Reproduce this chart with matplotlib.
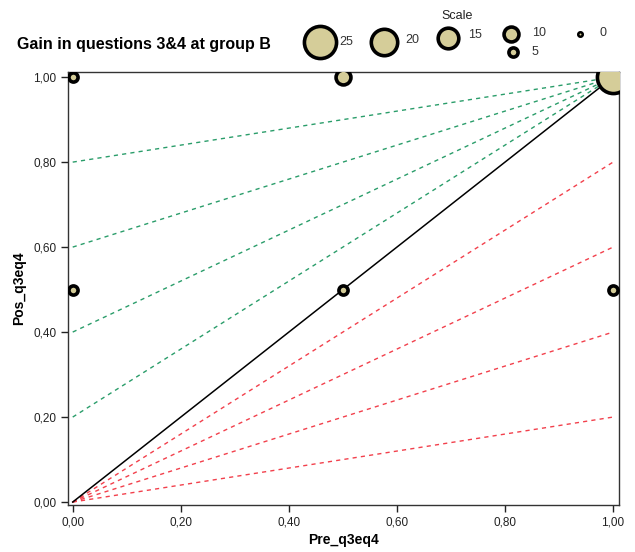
import matplotlib
matplotlib.use('Agg')
import matplotlib.pyplot as plt
from matplotlib.ticker import FuncFormatter

plt.rcParams['font.family'] = ['Liberation Sans', 'DejaVu Sans']

# observed points: pre score, post score, number of students
pre = [0.0, 0.5, 1.0, 0.0, 0.5, 1.0]
pos = [1.0, 1.0, 1.0, 0.5, 0.5, 0.5]
count = [5, 10, 25, 5, 5, 5]

# reference lines
gain_starts = [0.2, 0.4, 0.6, 0.8]   # green: from (0, y) to (1, 1)
loss_ends = [0.2, 0.4, 0.6, 0.8]     # red: from (0, 0) to (1, y)

scale_values = [25, 20, 15, 10, 5, 0]

fill = '#d5cd99'
EDGE_PX = 3.6


def marker_style(n):
    # outer diameter in pixels grows with the count
    d = 7 + 1.15 * n
    mew = 2.6 if n > 0 else 1.8
    ms = (d - mew / 0.72) * 0.72
    return dict(marker='o', ms=ms, mew=mew, mfc=fill, mec='black')


fig = plt.figure(figsize=(6.35, 5.52), dpi=100)
ax = fig.add_axes([0.1071, 0.0851, 0.8677, 0.7844])

for y0 in gain_starts:
    ax.plot([0, 1], [y0, 1], color='#2a9d6a', ls=(0, (3, 3)), lw=1.0, zorder=1)
for y1 in loss_ends:
    ax.plot([0, 1], [0, y1], color='#f2404c', ls=(0, (3, 3)), lw=1.0, zorder=1)
ax.plot([0, 1], [0, 1], color='black', lw=1.1, zorder=2)

for x, y, n in zip(pre, pos, count):
    ax.plot(x, y, ls='none', zorder=3, **marker_style(n))

ax.set_xlim(-0.0087, 1.011)
ax.set_ylim(-0.007, 1.012)
ticks = [0, 0.2, 0.4, 0.6, 0.8, 1.0]
ax.set_xticks(ticks)
ax.set_yticks(ticks)
fmt = FuncFormatter(lambda v, p: ('%.2f' % v).replace('.', ','))
ax.xaxis.set_major_formatter(fmt)
ax.yaxis.set_major_formatter(fmt)
ax.tick_params(direction='out', length=5, width=1, labelsize=8.5, colors='#222222')
for s in ax.spines.values():
    s.set_color('#333333')
    s.set_linewidth(1)

ax.set_xlabel('Pre_q3eq4', fontsize=10, fontweight='bold', labelpad=3)
ax.set_ylabel('Pos_q3eq4', fontsize=10, fontweight='bold', labelpad=5)

fig.text(17 / 635, 1 - 44 / 552, 'Gain in questions 3&4 at group B',
         fontsize=11.5, fontweight='bold', va='center', ha='left')

# size legend
fig.text(457 / 635, 1 - 16 / 552, 'Scale', fontsize=9, ha='center', va='center',
         color='#222222')
leg_x = [320, 384, 448, 511, 513, 580]
leg_y = [42, 42, 38, 34, 52, 34]
lab_x = [339, 405, 468, 532, 532, 599]
lab_y = [42, 40, 35, 33, 52, 33]
for v, px, py, lx, ly in zip(scale_values, leg_x, leg_y, lab_x, lab_y):
    fig.lines.append(plt.Line2D([px / 635], [1 - py / 552], ls='none',
                                transform=fig.transFigure, figure=fig,
                                **marker_style(v)))
    fig.text(lx / 635, 1 - ly / 552, str(v), fontsize=9, ha='left',
             va='center', color='#333333')

fig.savefig('out.png', dpi=100)
